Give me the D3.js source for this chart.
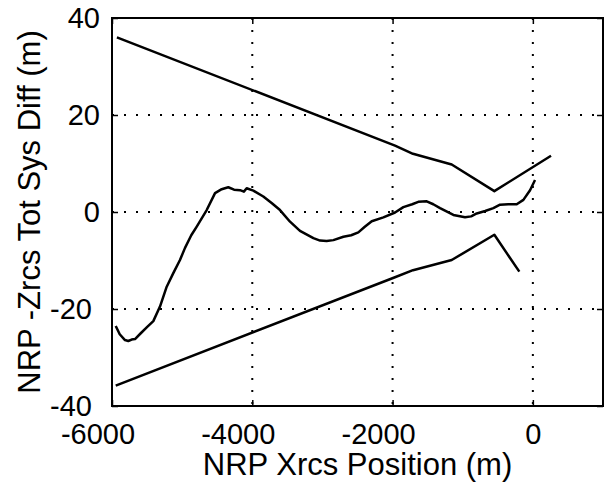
<!DOCTYPE html>
<html>
<head>
<meta charset="utf-8">
<script src="https://cdn.jsdelivr.net/npm/d3@7"></script>
<style>
  body { margin: 0; background: #fff; }
  text { font-family: "Liberation Sans", Arial, Helvetica, sans-serif; fill: #000; }
</style>
</head>
<body>
<div id="chart"></div>
<script>
// values
var xTicks = [-6000, -4000, -2000, 0];
var yTicks = [-40, -20, 0, 20, 40];

var upperX = [-5930, -1965, -1709, -1157, -549, 259];
var upperY = [36, 13.7, 12.0, 9.8, 4.3, 11.6];

var lowerX = [-5947, -1975, -1709, -1157, -549, -193];
var lowerY = [-35.8, -13.5, -12.0, -9.9, -4.7, -12.3];

var diffX = [-5947, -5890, -5815, -5768, -5720, -5672, -5590, -5505, -5411, -5316, -5220, -5126,
             -5031, -4959, -4870, -4792, -4650, -4531, -4436, -4390, -4342, -4260, -4175, -4120,
             -4080, -3985, -3843, -3720, -3605, -3462, -3320, -3129, -3034, -2940, -2844, -2701,
             -2590, -2488, -2400, -2297, -2131, -1965, -1846, -1720, -1633, -1513, -1420, -1323,
             -1133, -967, -880, -800, -680, -563, -468, -350, -230, -135, -40, 31];
var diffY = [-23.5, -25.2, -26.4, -26.6, -26.3, -26.2, -25.0, -23.8, -22.5, -19.5, -15.4, -12.6,
             -9.9, -7.4, -4.8, -3.0, 0.4, 3.9, 4.7, 4.9, 5.1, 4.6, 4.5, 4.2,
             4.9, 4.4, 3.2, 1.8, 0.4, -2.0, -3.9, -5.4, -5.9, -6.0, -5.8, -5.1,
             -4.8, -4.2, -3.1, -1.9, -1.1, -0.1, 1.0, 1.6, 2.1, 2.2, 1.6, 0.8,
             -0.6, -1.1, -0.9, -0.3, 0.2, 0.8, 1.5, 1.6, 1.6, 2.5, 4.5, 6.6];

var margin = { top: 18, right: 5, bottom: 84, left: 112 };
var width = 608 - margin.left - margin.right,
    height = 490 - margin.top - margin.bottom;

var svg = d3.select("#chart").append("svg")
    .attr("width", 608)
    .attr("height", 490)
  .append("g")
    .attr("transform", "translate(" + margin.left + "," + margin.top + ")");

var x = d3.scaleLinear().domain([-6000, 1000]).range([0, width]);
var y = d3.scaleLinear().domain([-40, 40]).range([height, 0]);

// dotted grid
svg.append("g").selectAll("line.gx")
    .data(xTicks.filter(d => d > -6000))
  .enter().append("line")
    .attr("x1", d => x(d)).attr("x2", d => x(d))
    .attr("y1", 0).attr("y2", height)
    .attr("stroke", "#000").attr("stroke-width", 2)
    .attr("stroke-dasharray", "2,10");

svg.append("g").selectAll("line.gy")
    .data(yTicks.filter(d => d > -40 && d < 40))
  .enter().append("line")
    .attr("x1", 0).attr("x2", width)
    .attr("y1", d => y(d)).attr("y2", d => y(d))
    .attr("stroke", "#000").attr("stroke-width", 2)
    .attr("stroke-dasharray", "2,10");

// axes (plain hyphen minus, no thousands separator)
var fmt = d => String(d);
var xAxis = d3.axisBottom(x).tickValues(xTicks).tickSize(-6).tickPadding(17).tickFormat(fmt);
var yAxis = d3.axisLeft(y).tickValues(yTicks).tickSize(-6).tickPadding(12).tickFormat(fmt);

var gx = svg.append("g")
    .attr("transform", "translate(0," + height + ")")
    .call(xAxis);
gx.selectAll("text")
    .attr("dx", d => d < 0 ? "-0.5em" : 0);

var gy = svg.append("g").call(yAxis);
gy.selectAll("text")
    .attr("dx", d => d < 0 ? "-0.28em" : 0);

svg.append("g").call(d3.axisTop(x).tickValues(xTicks).tickSize(-6).tickFormat(""));
svg.append("g").attr("transform", "translate(" + width + ",0)")
    .call(d3.axisRight(y).tickValues(yTicks).tickSize(-6).tickFormat(""));

svg.selectAll(".domain").remove();
svg.selectAll(".tick line").attr("stroke", "#000").attr("stroke-width", 1.5);
svg.selectAll(".tick text")
    .style("font-size", "29px")
    .style("font-family", "'Liberation Sans', Arial, sans-serif")
    .attr("fill", "#000");

svg.append("rect")
    .attr("x", 0).attr("y", 0)
    .attr("width", width).attr("height", height)
    .attr("fill", "none").attr("stroke", "#000").attr("stroke-width", 2);

// data lines
var line = d3.line().x(d => x(d[0])).y(d => y(d[1]));

[[upperX, upperY], [lowerX, lowerY], [diffX, diffY]].forEach(function(s) {
  svg.append("path")
      .datum(d3.zip(s[0], s[1]))
      .attr("d", line)
      .attr("fill", "none")
      .attr("stroke", "#000")
      .attr("stroke-width", 2.5)
      .attr("stroke-linejoin", "round");
});

// labels
svg.append("text")
    .attr("x", width / 2)
    .attr("y", 475 - margin.top)
    .attr("text-anchor", "middle")
    .style("font-size", "31px")
    .text("NRP Xrcs Position (m)");

svg.append("text")
    .attr("transform", "translate(" + (40 - margin.left) + "," + (height / 2) + ") rotate(-90)")
    .attr("text-anchor", "middle")
    .style("font-size", "31px")
    .text("NRP -Zrcs Tot Sys Diff (m)");
</script>
</body>
</html>
